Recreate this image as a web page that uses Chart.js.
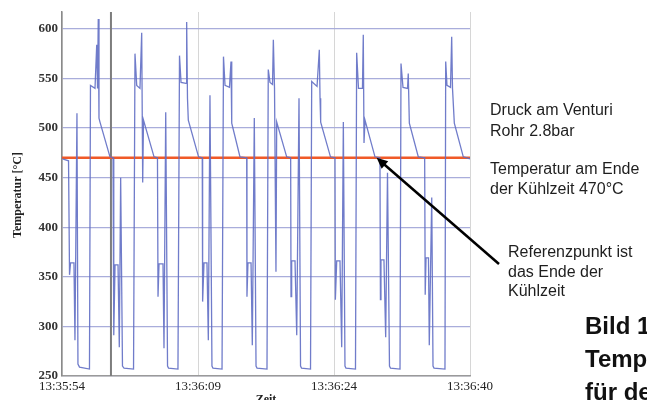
<!DOCTYPE html>
<html>
<head>
<meta charset="utf-8">
<script src="https://cdn.jsdelivr.net/npm/chart.js@4"></script>
<style>
  html, body { margin: 0; padding: 0; background: #fff; }
  #wrap { width: 647px; height: 400px; position: relative; }
</style>
</head>
<body>
<div id="wrap"><canvas id="kurve" width="647" height="400"></canvas></div>
<script>
// Messzeit in Sekunden ab 13:35:54
const zeitSek = [
  0.06, 0.72, 0.83, 0.94, 1.32, 1.43, 1.65, 1.76, 1.93, 3.03, 3.14, 3.64, 3.83, 3.92, 4.00, 4.08, 4.19, 5.29, 5.63,
  5.71, 5.85, 6.18, 6.32, 6.47, 6.67, 6.84, 7.89, 8.05, 8.24, 8.60, 8.79, 8.90, 8.99, 10.15, 10.53,
  10.59, 10.70, 11.14, 11.25, 11.44, 11.64, 11.75, 12.79, 12.96, 13.13, 13.68, 13.75, 13.84, 13.93, 15.06, 15.47,
  15.51, 15.66, 15.99, 16.14, 16.32, 16.54, 16.65, 17.65, 17.81, 17.98, 18.47, 18.64, 18.72, 19.63, 20.37,
  20.40, 20.51, 20.85, 20.99, 21.21, 21.40, 21.51, 22.61, 22.75, 22.94, 23.22, 23.31, 23.44, 23.60, 23.68, 24.78, 25.22,
  25.26, 25.33, 25.70, 25.89, 26.14, 26.31, 26.42, 27.41, 27.54, 28.13, 28.38, 28.46, 28.53, 29.61, 30.11,
  30.15, 30.30, 30.66, 30.85, 31.03, 31.21, 31.32, 32.37, 32.50, 32.70, 33.14, 33.23, 33.31, 33.42, 34.52, 35.07,
  35.12, 35.18, 35.51, 35.70, 35.90, 36.12, 36.23, 37.28, 37.39, 37.61, 38.11, 38.19, 38.31, 39.30, 40.00,
  40.06, 40.15, 40.42, 40.51, 40.78, 40.92, 41.03, 42.24, 42.32, 42.46, 42.85, 42.98, 43.07, 43.27, 44.26, 45.00
];

// Temperatur in °C zu jedem Messzeitpunkt
const temperaturC = [
  469, 467, 352, 364, 364, 286, 515, 262, 259, 257, 543, 540, 584, 540, 610, 510, 506, 471, 470,
  291, 362, 362, 279, 450, 260, 258, 257, 575, 543, 540, 596, 445, 508, 471, 470,
  330, 363, 363, 278, 516, 260, 258, 257, 573, 546, 545, 607, 530, 508, 471, 470,
  325, 364, 364, 286, 533, 260, 258, 257, 572, 543, 541, 567, 505, 471, 470,
  330, 364, 364, 281, 510, 260, 258, 257, 559, 546, 544, 589, 540, 355, 506, 471, 470,
  330, 366, 366, 291, 530, 260, 258, 257, 547, 542, 579, 530, 506, 471, 470,
  327, 366, 366, 279, 506, 260, 258, 257, 576, 540, 540, 594, 485, 508, 471, 470,
  327, 367, 367, 289, 455, 260, 258, 257, 565, 541, 540, 555, 505, 471, 470,
  332, 369, 369, 281, 430, 260, 258, 257, 567, 543, 541, 592, 540, 505, 471, 469
];

const tempEndeKuehlzeit = 470;          // Sollwert am Ende der Kühlzeit
const zeitTicksSek = [0, 15, 30, 45];
const zeitLabels = ['13:35:54', '13:36:09', '13:36:24', '13:36:40'];
const tempTicks = [250, 300, 350, 400, 450, 500, 550, 600];
const referenzSek = 34.7;               // Ende der Kühlzeit, auf das der Pfeil zeigt
const cursorSek = 5.4;                  // Markierungslinie

const messpunkte = zeitSek.map((t, i) => ({ x: t, y: temperaturC[i] }));
const sollLinie = [
  { x: zeitTicksSek[0], y: tempEndeKuehlzeit },
  { x: zeitTicksSek[zeitTicksSek.length - 1], y: tempEndeKuehlzeit }
];

const beschriftung = {
  id: 'beschriftung',
  beforeDatasetsDraw(chart) {
    const { ctx, chartArea, scales } = chart;
    const cx = scales.x.getPixelForValue(cursorSek);
    ctx.save();
    ctx.strokeStyle = '#7d7d7d';
    ctx.lineWidth = 2;
    ctx.beginPath();
    ctx.moveTo(cx, chartArea.top);
    ctx.lineTo(cx, chartArea.bottom);
    ctx.stroke();
    ctx.restore();
  },
  afterDraw(chart) {
    const { ctx, scales } = chart;
    ctx.save();

    // Achsentitel
    ctx.fillStyle = '#222';
    ctx.font = 'bold 12px "Liberation Serif"';
    ctx.textAlign = 'center';
    ctx.textBaseline = 'middle';
    ctx.save();
    ctx.translate(18, 195);
    ctx.rotate(-Math.PI / 2);
    ctx.fillText('Temperatur [°C]', 0, 0);
    ctx.restore();
    ctx.textBaseline = 'top';
    ctx.fillText('Zeit', 266, 394);

    // Pfeil zum Referenzpunkt
    const px = scales.x.getPixelForValue(referenzSek);
    const py = scales.y.getPixelForValue(tempEndeKuehlzeit);
    const ex = 499, ey = 264;
    const ang = Math.atan2(py - ey, px - ex);
    ctx.strokeStyle = '#000';
    ctx.fillStyle = '#000';
    ctx.lineWidth = 2.5;
    ctx.beginPath();
    ctx.moveTo(ex, ey);
    ctx.lineTo(px - 6 * Math.cos(ang), py - 6 * Math.sin(ang));
    ctx.stroke();
    ctx.beginPath();
    ctx.moveTo(px, py);
    ctx.lineTo(px - 11 * Math.cos(ang) + 5 * Math.sin(ang), py - 11 * Math.sin(ang) - 5 * Math.cos(ang));
    ctx.lineTo(px - 11 * Math.cos(ang) - 5 * Math.sin(ang), py - 11 * Math.sin(ang) + 5 * Math.cos(ang));
    ctx.closePath();
    ctx.fill();

    // Erläuterungen rechts
    ctx.fillStyle = '#1e1e1e';
    ctx.textAlign = 'left';
    ctx.textBaseline = 'alphabetic';
    ctx.font = '16px "Liberation Sans"';
    [
      ['Druck am Venturi', 490, 115],
      ['Rohr 2.8bar', 490, 136],
      ['Temperatur am Ende', 490, 174],
      ['der Kühlzeit 470°C', 490, 194],
      ['Referenzpunkt ist', 508, 257],
      ['das Ende der', 508, 277],
      ['Kühlzeit', 508, 296]
    ].forEach(([t, x, y]) => ctx.fillText(t, x, y));

    ctx.fillStyle = '#111';
    ctx.font = 'bold 24px "Liberation Sans"';
    [
      ['Bild 1', 585, 334],
      ['Temperaturverlauf', 585, 367],
      ['für den', 585, 400]
    ].forEach(([t, x, y]) => ctx.fillText(t, x, y));

    ctx.restore();
  }
};

new Chart(document.getElementById('kurve'), {
  type: 'line',
  data: {
    datasets: [
      {
        label: 'Temperatur',
        data: messpunkte,
        borderColor: 'rgba(96, 110, 196, 0.9)',
        borderWidth: 1.3,
        pointRadius: 0,
        tension: 0,
        fill: false
      },
      {
        label: 'Ende Kühlzeit',
        data: sollLinie,
        borderColor: '#f05a28',
        borderWidth: 2.5,
        pointRadius: 0,
        fill: false
      }
    ]
  },
  options: {
    responsive: false,
    animation: false,
    devicePixelRatio: 1,
    layout: { padding: { top: 12, right: 177, left: 0, bottom: 0 } },
    plugins: { legend: { display: false }, tooltip: { enabled: false } },
    scales: {
      x: {
        type: 'linear',
        min: 0,
        max: 45,
        afterBuildTicks: s => { s.ticks = zeitTicksSek.map(v => ({ value: v })); },
        afterFit: s => { s.height = 24; },
        ticks: {
          callback: v => zeitLabels[zeitTicksSek.indexOf(v)],
          font: { family: '"Liberation Serif"', size: 13 },
          color: '#222',
          padding: 3,
          maxRotation: 0,
          autoSkip: false
        },
        grid: { color: '#d6d6d6', drawTicks: false },
        border: { color: '#9a9a9a', width: 1.5 }
      },
      y: {
        min: 250,
        max: 617,
        afterBuildTicks: s => { s.ticks = tempTicks.map(v => ({ value: v })); },
        afterFit: s => { s.width = 62; },
        ticks: {
          font: { family: '"Liberation Serif"', size: 13, weight: 'bold' },
          color: '#333',
          padding: 4
        },
        grid: { color: '#a9addb', lineWidth: 1.3, drawTicks: false },
        border: { color: '#8a8a8a', width: 1.5 }
      }
    }
  },
  plugins: [beschriftung]
});
</script>
</body>
</html>
